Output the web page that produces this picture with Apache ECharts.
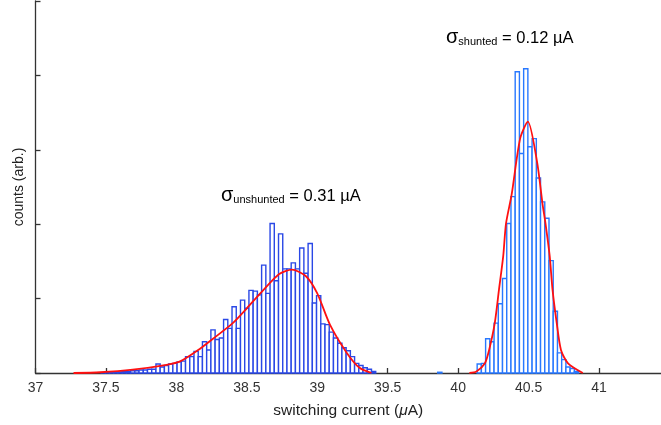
<!DOCTYPE html>
<html>
<head>
<meta charset="utf-8">
<script src="https://cdn.jsdelivr.net/npm/echarts@6/dist/echarts.min.js"></script>
<style>html,body{margin:0;padding:0;background:#fff}#c{width:661px;height:425px}</style>
</head>
<body>
<div id="c"></div>
<script>
// ---- data ----
const xTickLabels = ['37','37.5','38','38.5','39','39.5','40','40.5','41'];

const unshuntedCenters = [37.48,37.51,37.54,37.57,37.60,37.63,37.66,37.69,37.72,37.75,37.78,37.81,37.84,37.87,37.90,37.93,37.96,37.99,38.02,38.05,38.08,38.11,38.14,38.17,38.20,38.23,38.26,38.29,38.32,38.35,38.38,38.41,38.44,38.47,38.50,38.53,38.56,38.59,38.62,38.65,38.68,38.71,38.74,38.77,38.80,38.83,38.86,38.89,38.92,38.95,38.98,39.01,39.04,39.07,39.10,39.13,39.16,39.19,39.22,39.25,39.28,39.31,39.34,39.37,39.40];
const unshuntedCounts  = [0.005,0.005,0.01,0.01,0.015,0.02,0.02,0.03,0.03,0.04,0.04,0.05,0.05,0.12,0.08,0.10,0.12,0.13,0.15,0.16,0.22,0.22,0.29,0.22,0.42,0.31,0.58,0.45,0.47,0.72,0.60,0.89,0.60,0.98,0.87,1.11,1.10,1.05,1.45,1.07,2.01,1.24,1.87,1.40,1.40,1.48,1.40,1.68,1.34,1.74,0.94,1.04,0.66,0.65,0.55,0.47,0.40,0.34,0.30,0.22,0.13,0.10,0.07,0.05,0.02];

const shuntedCenters = [39.87,40.15,40.18,40.21,40.24,40.27,40.30,40.33,40.36,40.39,40.42,40.45,40.48,40.51,40.54,40.57,40.60,40.63,40.66,40.69,40.72,40.75,40.78,40.81,40.84];
const shuntedCounts  = [0.01,0.12,0.13,0.46,0.42,0.67,0.93,1.27,2.01,2.37,4.05,2.95,4.09,3.04,3.15,2.62,2.30,2.08,1.51,0.83,0.27,0.18,0.08,0.06,0.02];

const unshuntedFitX = [37.27,37.46,37.69,37.93,38.03,38.17,38.26,38.40,38.50,38.62,38.73,38.82,38.92,39.00,39.09,39.21,39.30,39.385];
const unshuntedFitY = [0,0.01,0.045,0.11,0.16,0.33,0.46,0.67,0.87,1.12,1.33,1.39,1.30,1.07,0.65,0.27,0.07,0];

const shuntedFitX = [40.08,40.13,40.19,40.22,40.26,40.29,40.32,40.34,40.38,40.44,40.495,40.56,40.60,40.62,40.65,40.67,40.70,40.73,40.78,40.885];
const shuntedFitY = [0,0.02,0.13,0.31,0.67,1.12,1.57,2.01,2.40,3.15,3.38,2.84,2.26,2.01,1.57,1.12,0.67,0.31,0.13,0];

const BIN = 0.03;
const FONT = 'Liberation Sans, Arial, Helvetica, sans-serif';

function histSeries(centers, counts, color) {
  return {
    type: 'custom',
    z: 2,
    data: centers.map((c, i) => [c, counts[i]]),
    renderItem: function (params, api) {
      const x = api.value(0), y = api.value(1);
      const p0 = api.coord([x - BIN / 2, y]);
      const p1 = api.coord([x + BIN / 2, 0]);
      return {
        type: 'rect',
        shape: { x: p0[0], y: p0[1], width: p1[0] - p0[0], height: p1[1] - p0[1] },
        style: { fill: '#ffffff', stroke: color, lineWidth: 1.4 }
      };
    }
  };
}

function fitSeries(xs, ys) {
  return {
    type: 'line',
    z: 5,
    data: xs.map((x, i) => [x, ys[i]]),
    showSymbol: false,
    symbol: 'none',
    smooth: 0.25,
    lineStyle: { color: '#ff1010', width: 1.8 }
  };
}

function sigmaText(sub, rest) {
  return '{s|σ}{b|' + sub + '}{n|' + rest + '}';
}
const richSigma = {
  s: { fontSize: 20, fontFamily: FONT, color: '#111', verticalAlign: 'bottom', lineHeight: 24 },
  b: { fontSize: 11, fontFamily: FONT, color: '#111', verticalAlign: 'bottom', lineHeight: 18 },
  n: { fontSize: 16.5, fontFamily: FONT, color: '#111', verticalAlign: 'bottom', lineHeight: 24 }
};

const chart = echarts.init(document.getElementById('c'), null, { renderer: 'canvas' });
chart.setOption({
  animation: false,
  backgroundColor: '#ffffff',
  grid: { left: 35.5, right: 0, top: 1, bottom: 52, containLabel: false },
  xAxis: {
    type: 'value',
    min: 37, max: 41.44, interval: 0.5,
    name: 'switching current ({i|μ}A)',
    nameLocation: 'middle',
    nameGap: 30,
    nameTextStyle: { fontSize: 15.5, fontFamily: FONT, color: '#222',
      rich: { i: { fontSize: 15.5, fontFamily: FONT, fontStyle: 'italic', color: '#222' } } },
    axisLine: { show: true, lineStyle: { color: '#333', width: 1.3 } },
    axisTick: { show: true, inside: true, length: 5, lineStyle: { color: '#333', width: 1.3 } },
    axisLabel: { show: true, fontSize: 14, fontFamily: FONT, color: '#333', margin: 8, showMaxLabel: false,
      formatter: function (v) { const s = String(+v.toFixed(2)); return xTickLabels.indexOf(s) >= 0 ? s : ''; } },
    splitLine: { show: false }
  },
  yAxis: {
    type: 'value',
    min: 0, max: 5, interval: 1,
    name: 'counts (arb.)',
    nameLocation: 'middle',
    nameGap: 9,
    nameTextStyle: { fontSize: 14, fontFamily: FONT, color: '#222' },
    axisLine: { show: true, lineStyle: { color: '#333', width: 1.3 } },
    axisTick: { show: true, inside: true, length: 5, lineStyle: { color: '#333', width: 1.3 } },
    axisLabel: { show: false },
    splitLine: { show: false }
  },
  series: [
    histSeries(unshuntedCenters, unshuntedCounts, '#2a48e6'),
    histSeries(shuntedCenters, shuntedCounts, '#2878ff'),
    fitSeries(unshuntedFitX, unshuntedFitY),
    fitSeries(shuntedFitX, shuntedFitY)
  ],
  graphic: [
    { type: 'text', left: 221, top: 185, z: 10,
      style: { text: sigmaText('unshunted', ' = 0.31 µA'), rich: richSigma } },
    { type: 'text', left: 446, top: 27, z: 10,
      style: { text: sigmaText('shunted', ' = 0.12 µA'), rich: richSigma } }
  ]
});
</script>
</body>
</html>
